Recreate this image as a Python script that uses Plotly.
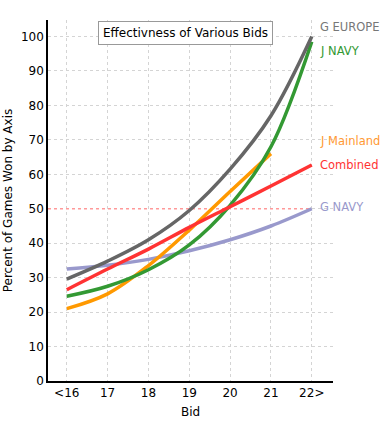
import plotly.graph_objects as go

bids = [0, 1, 2, 3, 4, 5, 6]
bid_labels = ["<16", "17", "18", "19", "20", "21", "22>"]

g_europe = [29.6, 34.8, 41.0, 49.5, 61.5, 77.0, 100.0]
j_navy = [24.6, 27.5, 32.3, 39.5, 51.0, 68.0, 98.5]
j_mainland = [21.0, 25.3, 33.5, 43.8, 55.0, 66.0]
combined = [26.5, 32.5, 38.3, 44.6, 50.6, 56.6, 62.7]
g_navy = [32.5, 33.6, 35.3, 37.8, 41.0, 45.0, 50.0]

series = [
    ("G NAVY", g_navy, "#9999cc", 50.5),
    ("J Mainland", j_mainland, "#ff9900", 69.8),
    ("J NAVY", j_navy, "#339933", 95.9),
    ("Combined", combined, "#ff3333", 62.8),
    ("G EUROPE", g_europe, "#666666", 102.8),
]
label_colors = {"G NAVY": "#9999cc", "J Mainland": "#ff9933", "J NAVY": "#339933",
                "Combined": "#ff3333", "G EUROPE": "#777777"}

fig = go.Figure()
for name, vals, color, ly in series:
    fig.add_trace(go.Scatter(
        x=bids[:len(vals)], y=vals, mode="lines", name=name,
        line=dict(color=color, width=3.5, shape="spline", smoothing=1.0),
        showlegend=False, hoverinfo="skip"))

annotations = []
for name, vals, color, ly in series:
    annotations.append(dict(x=6.16, y=ly, xref="x", yref="y", text=name,
                            showarrow=False, xanchor="left", yanchor="middle",
                            font=dict(color=label_colors[name], size=11.5)))
annotations.append(dict(x=0.482, y=0.965, xref="paper", yref="paper",
                        text="Effectivness of Various Bids", showarrow=False,
                        xanchor="center", yanchor="middle",
                        bordercolor="#999999", borderwidth=1, borderpad=4,
                        bgcolor="white", font=dict(size=12, color="#000000")))

fig.add_shape(type="line", x0=-0.46, x1=6, y0=50, y1=50, xref="x", yref="y",
              line=dict(color="#ff9999", width=1.5, dash="dot"), layer="between")

fig.update_layout(
    width=384, height=425,
    margin=dict(l=48, r=51, t=20, b=44),
    plot_bgcolor="white", paper_bgcolor="white",
    font=dict(family="DejaVu Sans, Verdana, sans-serif", size=12, color="#000000"),
    annotations=annotations,
    xaxis=dict(range=[-0.46, 6.52], tickvals=bids, ticktext=bid_labels,
               showgrid=True, gridcolor="#d4d4d4", griddash="dot", gridwidth=1,
               showline=True, linecolor="#000000", linewidth=1.5, zeroline=False,
               ticks="", automargin=False,
               title=dict(text="Bid", font=dict(size=12), standoff=8)),
    yaxis=dict(range=[0, 104.8], tickvals=[0, 10, 20, 30, 40, 60, 70, 80, 90, 100, 50],
               showgrid=True, gridcolor="#d4d4d4", griddash="dot", gridwidth=1,
               showline=True, linecolor="#000000", linewidth=1.5, zeroline=False,
               ticks="", automargin=False,
               title=dict(text="Percent of Games Won by Axis", font=dict(size=12), standoff=6)),
)

fig.write_html("out.html", config={"displayModeBar": False},
               post_script="document.body.style.margin='0';document.body.style.overflow='hidden';")
